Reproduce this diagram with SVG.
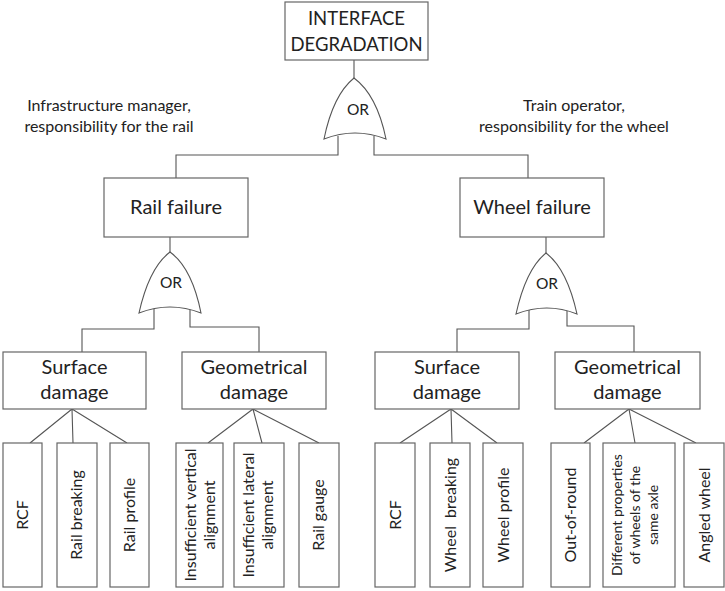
<svg xmlns="http://www.w3.org/2000/svg" width="725" height="591" viewBox="0 0 725 591">
  <style>
    .box { fill: #fff; stroke: #666; stroke-width: 1.2; }
    .gate { fill: #fff; stroke: #555; stroke-width: 1.1; }
    .ln { fill: none; stroke: #555; stroke-width: 1.1; }
    text { font-family: Lato, "Open Sans", "Liberation Sans", sans-serif; fill: #222; text-anchor: middle; }
    .t1 { font-size: 18.5px; }
    .t2 { font-size: 20px; }
    .t3 { font-size: 20px; }
    .lf { font-size: 16px; }
    .lfs { font-size: 14px; }
    .note { font-size: 16px; }
    .or { font-size: 15.5px; }
  </style>
  <rect width="725" height="591" fill="#fff"/>

  <!-- connectors -->
  <g id="connectors">
    <path class="ln" d="M354,60 V78"/>
    <path class="ln" d="M338,136 V155 H176 V178"/>
    <path class="ln" d="M374,136 V155 H528 V178"/>
    <path class="ln" d="M170,237 V252"/>
    <path class="ln" d="M546,237 V253"/>
    <path class="ln" d="M154,309 V329 H82 V352"/>
    <path class="ln" d="M190,309 V327 H259 V352"/>
    <path class="ln" d="M529,310 V329 H457 V352"/>
    <path class="ln" d="M567,310 V326 H634 V352"/>
    <path class="ln" d="M72,409 L30,443 M72,409 L73,443 M72,409 L127,443"/>
    <path class="ln" d="M253,409 L208,443 M253,409 L262,443 M253,409 L319,443"/>
    <path class="ln" d="M451,409 L400,443 M451,409 L452,443 M451,409 L497,443"/>
    <path class="ln" d="M629,409 L584,443 M629,409 L635,443 M629,409 L696,443"/>
  </g>

  <!-- top event -->
  <g id="top">
    <rect class="box" x="285" y="2" width="143" height="58"/>
    <text class="t1" x="356.5" y="25">INTERFACE</text>
    <text class="t1" x="356.5" y="51">DEGRADATION</text>
  </g>

  <g id="gate-top">
    <path class="gate" d="M354,78 Q333,95 324,139 Q355,127 386,139 Q377,95 354,78 Z"/>
    <text class="or" x="358" y="115">OR</text>
  </g>

  <g id="note-rail">
    <text class="note" x="109" y="111">Infrastructure manager,</text>
    <text class="note" x="109" y="132">responsibility for the rail</text>
  </g>
  <g id="note-wheel">
    <text class="note" x="574" y="111">Train operator,</text>
    <text class="note" x="574" y="132">responsibility for the wheel</text>
  </g>

  <g id="rail-failure">
    <rect class="box" x="104" y="178" width="144" height="59"/>
    <text class="t2" x="176" y="214">Rail failure</text>
  </g>
  <g id="wheel-failure">
    <rect class="box" x="460" y="178" width="144" height="59"/>
    <text class="t2" x="532" y="214">Wheel failure</text>
  </g>

  <g id="gate-rail">
    <path class="gate" d="M170,252 Q149,268 139,313 Q170,301 201,313 Q192,268 170,252 Z"/>
    <text class="or" x="171" y="288">OR</text>
  </g>
  <g id="gate-wheel">
    <path class="gate" d="M546,253 Q526,269 516,314 Q547,302 577,314 Q567,269 546,253 Z"/>
    <text class="or" x="547" y="289">OR</text>
  </g>

  <g id="rail-surface">
    <rect class="box" x="3" y="352" width="143" height="57"/>
    <text class="t3" x="74.5" y="374">Surface</text>
    <text class="t3" x="74.5" y="399">damage</text>
  </g>
  <g id="rail-geometrical">
    <rect class="box" x="182" y="352" width="144" height="57"/>
    <text class="t3" x="254" y="374">Geometrical</text>
    <text class="t3" x="254" y="399">damage</text>
  </g>
  <g id="wheel-surface">
    <rect class="box" x="375" y="352" width="144" height="57"/>
    <text class="t3" x="447" y="374">Surface</text>
    <text class="t3" x="447" y="399">damage</text>
  </g>
  <g id="wheel-geometrical">
    <rect class="box" x="555" y="352" width="145" height="57"/>
    <text class="t3" x="627.5" y="374">Geometrical</text>
    <text class="t3" x="627.5" y="399">damage</text>
  </g>

  <!-- rail leaves -->
  <g id="leaf-rcf-rail">
    <rect class="box" x="3" y="443" width="39" height="144"/>
    <text class="lf" transform="translate(28,515) rotate(-90)">RCF</text>
  </g>
  <g id="leaf-rail-breaking">
    <rect class="box" x="57" y="443" width="40" height="144"/>
    <text class="lf" transform="translate(82,515) rotate(-90)">Rail breaking</text>
  </g>
  <g id="leaf-rail-profile">
    <rect class="box" x="110" y="443" width="39" height="144"/>
    <text class="lf" transform="translate(135,515) rotate(-90)">Rail profile</text>
  </g>
  <g id="leaf-vertical">
    <rect class="box" x="176" y="443" width="47" height="144"/>
    <text class="lf" transform="translate(196,515) rotate(-90)">Insufficient vertical</text>
    <text class="lf" transform="translate(215,515) rotate(-90)">alignment</text>
  </g>
  <g id="leaf-lateral">
    <rect class="box" x="234" y="443" width="50" height="144"/>
    <text class="lf" transform="translate(254,515) rotate(-90)">Insufficient lateral</text>
    <text class="lf" transform="translate(273,515) rotate(-90)">alignment</text>
  </g>
  <g id="leaf-rail-gauge">
    <rect class="box" x="299" y="443" width="40" height="144"/>
    <text class="lf" transform="translate(324,515) rotate(-90)">Rail gauge</text>
  </g>

  <!-- wheel leaves -->
  <g id="leaf-rcf-wheel">
    <rect class="box" x="375" y="443" width="40" height="144"/>
    <text class="lf" transform="translate(401,515) rotate(-90)">RCF</text>
  </g>
  <g id="leaf-wheel-breaking">
    <rect class="box" x="430" y="443" width="40" height="144"/>
    <text class="lf" transform="translate(456,515) rotate(-90)" xml:space="preserve">Wheel  breaking</text>
  </g>
  <g id="leaf-wheel-profile">
    <rect class="box" x="483" y="443" width="40" height="144"/>
    <text class="lf" transform="translate(509,515) rotate(-90)">Wheel profile</text>
  </g>
  <g id="leaf-out-of-round">
    <rect class="box" x="551" y="443" width="39" height="144"/>
    <text class="lf" transform="translate(576,515) rotate(-90)">Out-of-round</text>
  </g>
  <g id="leaf-axle">
    <rect class="box" x="603" y="443" width="72" height="144"/>
    <text class="lfs" transform="translate(622,515) rotate(-90)">Different properties</text>
    <text class="lfs" transform="translate(640,515) rotate(-90)">of wheels of the</text>
    <text class="lfs" transform="translate(658,515) rotate(-90)">same axle</text>
  </g>
  <g id="leaf-angled">
    <rect class="box" x="684" y="443" width="40" height="144"/>
    <text class="lf" transform="translate(710,515) rotate(-90)">Angled wheel</text>
  </g>
</svg>
